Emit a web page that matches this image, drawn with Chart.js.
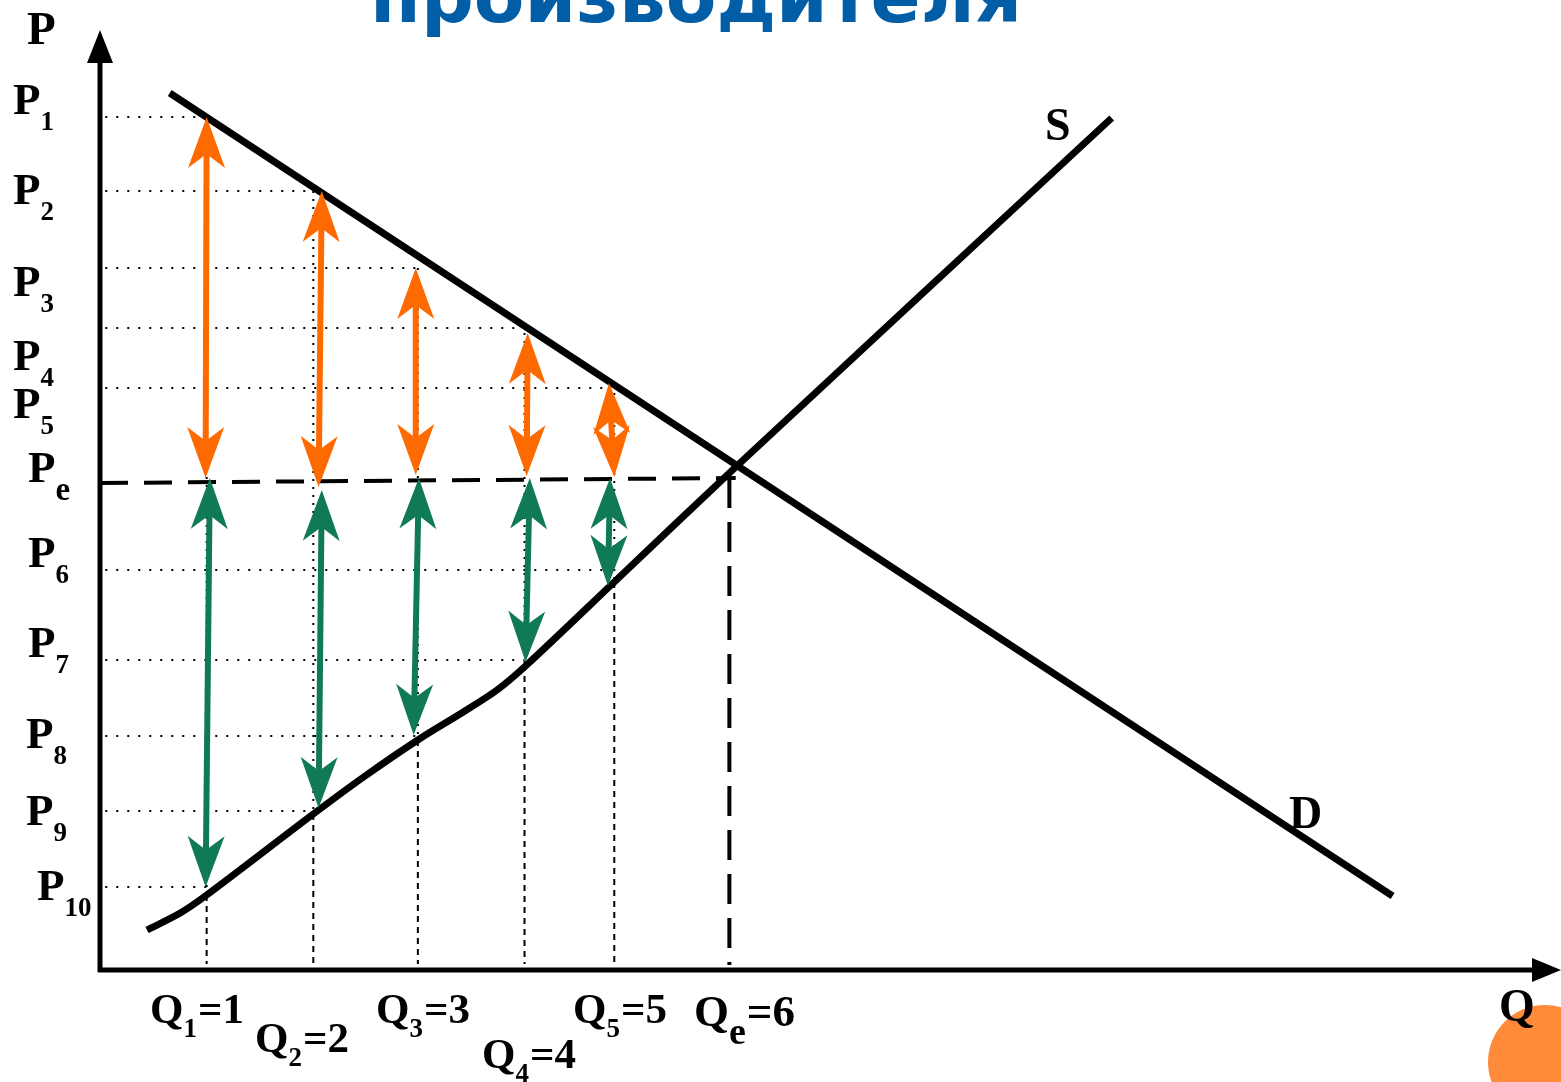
<!DOCTYPE html>
<html>
<head>
<meta charset="utf-8">
<script src="https://cdn.jsdelivr.net/npm/chart.js@4.4.0/dist/chart.umd.min.js"></script>
<style>
  html, body { margin: 0; padding: 0; background: #fff; }
  #wrap { width: 1561px; height: 1082px; position: relative; }
</style>
</head>
<body>
<div id="wrap"><canvas id="surplusChart"></canvas></div>
<script>
// quantities on the Q axis (positions) and their labels
const qPos = [1.01, 2.02, 3.01, 4.02, 4.87, 5.96];
const qNames = ['1', '2', '3', '4', '5', 'e'];
const qValues = ['1', '2', '3', '4', '5', '6'];

// price levels on the P axis
const pNames = ['1', '2', '3', '4', '5', 'e', '6', '7', '8', '9', '10'];
const pPos = [8.53, 7.79, 7.02, 6.42, 5.82, 4.89, 4.00, 3.10, 2.34, 1.59, 0.83];
// where each dotted price guide ends (null = the dashed Pe line)
const pEndQ = [1.01, 2.06, 3.01, 4.02, 4.83, null, 4.83, 4.02, 3.01, 2.02, 1.01];

// demand line D
const demandQ = [0.66, 12.24];
const demandP = [8.77, 0.74];

// supply curve S
const supplyQ = [0.445, 0.76, 1.01, 2.02, 2.51, 3.01, 3.44, 3.76, 4.04, 4.87, 6.02, 9.58];
const supplyP = [0.40, 0.57, 0.75, 1.56, 1.94, 2.30, 2.58, 2.80, 3.05, 3.88, 5.03, 8.52];

// equilibrium guides
const peLineQ = [0.0, 6.02];
const peLineP = [4.87, 4.92];
const qeLineP = [4.92, 0.05];

// vertical guides at Q1..Q5: demand point and supply point
const guideTopP = [8.53, 7.79, 7.02, 6.37, 5.85];
const guideSupplyP = [0.75, 1.56, 2.30, 3.05, 3.88];

// orange arrows (Pe up to demand)
const orangeTopQ = [1.01, 2.10, 2.99, 4.05, 4.82];
const orangeTopP = [8.53, 7.79, 7.02, 6.37, 5.87];
const orangeBottomQ = [1.00, 2.07, 2.99, 4.04, 4.87];
const orangeBottomP = [4.92, 4.83, 4.95, 4.94, 4.93];

// green arrows (Pe down to supply)
const greenTopQ = [1.04, 2.10, 3.02, 4.07, 4.83];
const greenTopP = [4.92, 4.80, 4.92, 4.92, 4.92];
const greenBottomQ = [1.00, 2.07, 2.97, 4.03, 4.81];
const greenBottomP = [0.83, 1.62, 2.35, 3.08, 3.84];

// ---- layout (text placement, pixels) ----
const pLabelX = [13, 13, 13, 13, 13, 28, 28, 28, 26, 26, 37];
const pLabelBase = [114, 204, 296, 370, 418, 482, 567, 657, 748, 825, 900];
const qLabelX = [150, 255, 376, 482, 573, 694];
const qLabelBase = [1023, 1052, 1023, 1068, 1023, 1026];

const SERIF = '"Liberation Serif", "Times New Roman", serif';
const ORANGE = '#FF6A00';
const GREEN = '#107A58';

function seg(xs, ys, width, dash, tension) {
    return {
        data: xs.map((x, i) => ({ x: x, y: ys[i] })),
        showLine: true,
        pointRadius: 0,
        borderColor: '#000',
        borderWidth: width,
        borderDash: dash || [],
        tension: tension || 0,
        fill: false
    };
}

const datasets = [];

// dotted price guides
pPos.forEach((p, i) => {
    if (pEndQ[i] === null) return;
    datasets.push(seg([0.05, pEndQ[i]], [p, p], 2, [2, 9]));
});

// vertical guides: dotted above supply, fine dashes below
qPos.slice(0, 5).forEach((q, i) => {
    datasets.push(seg([q, q], [guideTopP[i], guideSupplyP[i]], 2, [2, 6]));
    datasets.push(seg([q, q], [guideSupplyP[i], 0.06], 2, [6, 5]));
});

// Pe and Qe dashed lines
datasets.push(seg(peLineQ, peLineP, 4, [28, 16]));
datasets.push(seg([qPos[5], qPos[5]], qeLineP, 4, [30, 14]));

// demand and supply
datasets.push(seg(demandQ, demandP, 7));
datasets.push(seg(supplyQ, supplyP, 7, null, 0.3));

function arrowHead(ctx, tx, ty, ux, uy, color) {
    const L = 51, N = 37, W = 18.5;
    const px = -uy, py = ux;
    ctx.fillStyle = color;
    ctx.beginPath();
    ctx.moveTo(tx, ty);
    ctx.lineTo(tx - ux * L + px * W, ty - uy * L + py * W);
    ctx.lineTo(tx - ux * N, ty - uy * N);
    ctx.lineTo(tx - ux * L - px * W, ty - uy * L - py * W);
    ctx.closePath();
    ctx.fill();
}

function doubleArrow(ctx, x1, y1, x2, y2, color) {
    const dx = x2 - x1, dy = y2 - y1;
    const len = Math.hypot(dx, dy);
    const ux = dx / len, uy = dy / len;
    ctx.strokeStyle = color;
    ctx.lineWidth = 6;
    ctx.setLineDash([]);
    ctx.beginPath();
    ctx.moveTo(x1 + ux * 30, y1 + uy * 30);
    ctx.lineTo(x2 - ux * 30, y2 - uy * 30);
    ctx.stroke();
    arrowHead(ctx, x2, y2, ux, uy, color);
    arrowHead(ctx, x1, y1, -ux, -uy, color);
}

function subText(ctx, x, base, main, sub, rest, size, subSize, drop) {
    ctx.font = 'bold ' + size + 'px ' + SERIF;
    ctx.fillText(main, x, base);
    let cx = x + ctx.measureText(main).width;
    ctx.font = 'bold ' + subSize + 'px ' + SERIF;
    ctx.fillText(sub, cx, base + drop);
    cx += ctx.measureText(sub).width + 1;
    if (rest) {
        ctx.font = 'bold ' + size + 'px ' + SERIF;
        ctx.fillText(rest, cx, base);
    }
}

const decor = {
    id: 'decor',
    beforeDatasetsDraw(chart) {
        const ctx = chart.ctx;
        ctx.save();
        // slide ornament
        ctx.fillStyle = '#FF8A3A';
        ctx.beginPath();
        ctx.arc(1545, 1062, 57, 0, Math.PI * 2);
        ctx.fill();
        // title (cut off at the top of the slide)
        const title = 'производителя';
        ctx.font = 'bold 70px "DejaVu Sans"';
        const size = 70 * 652 / ctx.measureText(title).width;
        ctx.font = 'bold ' + size.toFixed(1) + 'px "DejaVu Sans"';
        ctx.fillStyle = '#005DA6';
        ctx.textBaseline = 'alphabetic';
        ctx.fillText(title, 370, 22);
        ctx.restore();
    },
    afterDatasetsDraw(chart) {
        const ctx = chart.ctx;
        const xs = chart.scales.x, ys = chart.scales.y;
        const X = v => xs.getPixelForValue(v);
        const Y = v => ys.getPixelForValue(v);
        ctx.save();

        orangeTopQ.forEach((q, i) => {
            doubleArrow(ctx, X(orangeBottomQ[i]), Y(orangeBottomP[i]), X(q), Y(orangeTopP[i]), ORANGE);
        });
        greenTopQ.forEach((q, i) => {
            doubleArrow(ctx, X(greenBottomQ[i]), Y(greenBottomP[i]), X(q), Y(greenTopP[i]), GREEN);
        });

        // axes with arrow tips
        const ox = X(0), oy = Y(0);
        ctx.strokeStyle = '#000';
        ctx.fillStyle = '#000';
        ctx.setLineDash([]);
        ctx.lineWidth = 5;
        ctx.beginPath();
        ctx.moveTo(ox, oy + 2);
        ctx.lineTo(ox, ys.top + 30);
        ctx.stroke();
        ctx.beginPath();
        ctx.moveTo(ox, ys.top);
        ctx.lineTo(ox - 13, ys.top + 33);
        ctx.lineTo(ox + 13, ys.top + 33);
        ctx.closePath();
        ctx.fill();

        ctx.lineWidth = 5;
        ctx.beginPath();
        ctx.moveTo(ox - 2, oy);
        ctx.lineTo(xs.right - 26, oy);
        ctx.stroke();
        ctx.beginPath();
        ctx.moveTo(xs.right, oy);
        ctx.lineTo(xs.right - 29, oy - 12);
        ctx.lineTo(xs.right - 29, oy + 12);
        ctx.closePath();
        ctx.fill();

        // labels
        ctx.textBaseline = 'alphabetic';
        ctx.textAlign = 'left';
        ctx.font = 'bold 47px ' + SERIF;
        ctx.fillText('P', 27, 44);
        ctx.font = 'bold 46px ' + SERIF;
        ctx.fillText('S', 1045, 140);
        ctx.fillText('D', 1289, 828);
        ctx.fillText('Q', 1499, 1021);

        pNames.forEach((n, i) => {
            const isE = n === 'e';
            subText(ctx, pLabelX[i], pLabelBase[i], 'P', n, '', 45, isE ? 33 : 27, isE ? 18 : 16);
        });
        qNames.forEach((n, i) => {
            const isE = n === 'e';
            subText(ctx, qLabelX[i], qLabelBase[i], 'Q', n, '=' + qValues[i], isE ? 45 : 43, isE ? 38 : 27, isE ? 18 : 14);
        });

        ctx.restore();
    }
};

new Chart(document.getElementById('surplusChart').getContext('2d'), {
    type: 'scatter',
    data: { datasets: datasets },
    options: {
        responsive: true,
        maintainAspectRatio: false,
        animation: false,
        layout: { padding: { left: 100, top: 30, right: 0, bottom: 112 } },
        plugins: {
            legend: { display: false },
            tooltip: { enabled: false }
        },
        scales: {
            x: { type: 'linear', min: 0, max: 13.835, display: false },
            y: { type: 'linear', min: 0, max: 9.4, display: false }
        }
    },
    plugins: [decor]
});
</script>
</body>
</html>
